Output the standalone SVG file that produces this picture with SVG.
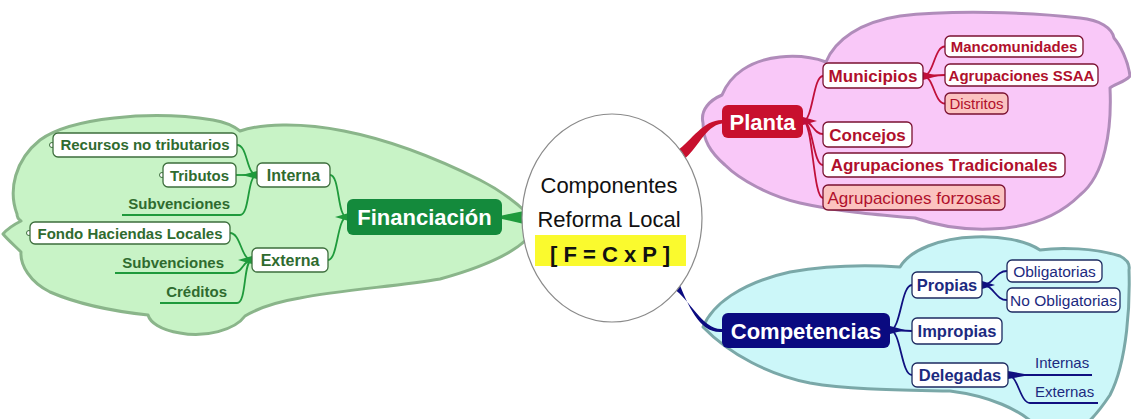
<svg xmlns="http://www.w3.org/2000/svg" width="1131" height="419" viewBox="0 0 1131 419">
<style>
text{font-family:"Liberation Sans",Arial,sans-serif}
.cloud{stroke-width:3;stroke-linejoin:round}
.gbox{fill:#fff;stroke:#3d6e3d;stroke-width:1.3}
.gt{fill:#2f6b2f;font-weight:bold;font-size:15px}
.pbox{fill:#fff;stroke:#7a1030;stroke-width:1.3}
.psal{fill:#fbc3c0;stroke:#7a1030;stroke-width:1.3}
.pt{fill:#b0102c;font-weight:bold;font-size:17px}
.cbox{fill:#fff;stroke:#1c2a60;stroke-width:1.3}
.ct{fill:#1c2a80;font-weight:bold;font-size:16.5px}
.gc{fill:none;stroke:#1f9a3c;stroke-width:1.8}
.pc{fill:none;stroke:#c0103a;stroke-width:1.8}
.cc{fill:none;stroke:#101080;stroke-width:1.8}
.mk{fill:#fff;stroke:#3d6e3d;stroke-width:1}
.mid{text-anchor:middle}
</style>
<rect width="1131" height="419" fill="#fff"/>
<g id="clouds">
<path class="cloud" fill="#c8f3c6" stroke="#8ab58a" d="M 17 214 C 8 190, 15 160, 40 140 C 70 118, 150 110, 213 120 C 225 122, 235 127, 240 131 C 260 124, 300 122, 344 131 C 390 140, 440 160, 480 180 C 500 190, 515 202, 526 212 L 526 240 C 510 255, 480 268, 440 279 C 400 286, 340 290, 300 298 C 270 303, 255 310, 245 316 C 235 330, 205 338, 180 333 C 160 330, 150 322, 148 315 C 120 312, 80 305, 50 292 C 30 282, 20 265, 21 252 C 15 246, 8 240, 3 234 C 8 228, 15 224, 21 221 C 18 219, 17 217, 17 214 Z"/>
<path class="cloud" fill="#f9c8f8" stroke="#b08cba" d="M 703 123 C 700 110, 710 100, 722 95 C 730 75, 750 60, 780 57 C 800 55, 815 58, 826 62 C 835 40, 860 22, 900 16 C 950 10, 1030 12, 1080 18 C 1100 20, 1112 28, 1114 38 C 1120 45, 1128 60, 1130 76 C 1125 82, 1115 84, 1110 88 C 1112 130, 1105 175, 1080 195 C 1060 215, 1030 228, 990 229 C 960 230, 935 225, 915 218 C 880 215, 840 212, 800 203 C 770 196, 740 180, 725 165 C 710 152, 703 140, 703 123 Z"/>
<path class="cloud" fill="#ccf7f9" stroke="#7aa8a8" d="M 703 327 C 712 305, 740 283, 790 272 C 830 265, 870 265, 900 267 C 910 250, 940 238, 975 237 C 1000 236, 1025 240, 1040 250 C 1060 247, 1095 248, 1120 256 C 1128 260, 1130 265, 1129 270 C 1130 300, 1128 360, 1110 395 C 1100 410, 1092 419, 1085 425 L 1035 425 C 1020 410, 990 396, 950 391 C 900 390, 850 390, 810 383 C 770 375, 730 355, 703 327 Z"/>
</g>
<g id="connectors">
<path d="M 502 215.5 L 524 211 L 524 224 L 502 219 Z" fill="#1f9a3c"/>
<path d="M 677 151 C 692 140, 703 120, 722 120 L 722 123.5 C 705 126, 697 150, 684 159 Z" fill="#c8102e"/>
<path d="M 674 289 C 690 300, 703 330, 722 329 L 722 332 C 700 334, 688 305, 679 283 Z" fill="#0a0a80"/>
<path class="gc" d="M 347 217 C 337 217, 340 175, 330 175"/>
<path class="gc" d="M 347 217 C 337 217, 338 260, 328 260"/>
<polygon points="347,213.5 347,220.5 335,217" fill="#1f9a3c"/>
<path class="gc" d="M 257 175 C 246 175, 248 145, 237 145"/>
<path class="gc" d="M 257 175 L 236 175"/>
<path class="gc" d="M 257 175 C 247 175, 250 215, 240 215 L 122 215"/>
<polygon points="257,171 257,179 242,175" fill="#1f9a3c"/>
<path class="gc" d="M 252 260 C 241 260, 241 233, 230 233"/>
<path class="gc" d="M 252 260 C 243 260, 243 273, 233 273 L 115 273"/>
<path class="gc" d="M 252 260 C 243 260, 247 303, 237 303 L 160 303"/>
<polygon points="252,256 252,264 238,260" fill="#1f9a3c"/>
<path class="pc" d="M 803 121 C 813 121, 813 76, 823 76"/>
<path class="pc" d="M 803 121 C 813 121, 813 134, 823 134"/>
<path class="pc" d="M 803 121 C 813 121, 813 165, 823 165"/>
<path class="pc" d="M 803 121 C 813 121, 813 198, 823 198"/>
<polygon points="803,117 803,125 817,121" fill="#c0103a"/>
<path class="pc" d="M 923 76 C 934 76, 934 46.5, 945 46.5"/>
<path class="pc" d="M 923 76 L 945 75"/>
<path class="pc" d="M 923 76 C 934 76, 934 103.5, 945 103.5"/>
<polygon points="923,72 923,80 938,76" fill="#c0103a"/>
<path class="cc" d="M 890 330 C 901 330, 901 285, 912 285"/>
<path class="cc" d="M 890 330 L 912 331"/>
<path class="cc" d="M 890 330 C 901 330, 901 375, 912 375"/>
<polygon points="890,326 890,334 905,330" fill="#101080"/>
<path class="cc" d="M 982 285 C 994 285, 995 271, 1007 271"/>
<path class="cc" d="M 982 285 C 994 285, 995 300, 1007 300"/>
<polygon points="982,281 982,289 995,285" fill="#101080"/>
<path class="cc" d="M 1008 375 L 1092 375"/>
<path class="cc" d="M 1008 375 C 1018 375, 1020 403, 1030 403 L 1098 403"/>
<polygon points="1008,371 1008,379 1030,375" fill="#101080"/>
</g>
<g id="center">
<ellipse cx="612" cy="218" rx="90" ry="104" fill="#fff" stroke="#8a8a8a" stroke-width="1.2"/>
<text class="mid" x="609" y="193" font-size="22" fill="#111">Componentes</text>
<text class="mid" x="609" y="227" font-size="22" fill="#111">Reforma Local</text>
<rect x="535" y="235" width="151" height="31" fill="#fafa2e"/>
<text class="mid" x="610" y="262" font-size="22" font-weight="bold" fill="#111">[ F = C x P ]</text>
</g>
<g id="financiacion">
<rect x="347" y="199" width="155" height="36" rx="6" fill="#148a3c"/>
<text class="mid" x="424.5" y="225" font-size="22" font-weight="bold" fill="#fff">Financiación</text>
</g>
<g id="interna">
<rect class="gbox" x="257" y="163" width="73" height="24" rx="5"/>
<text class="mid" x="293.5" y="181" font-size="16" font-weight="bold" fill="#2f6b2f">Interna</text>
</g>
<g id="externa">
<rect class="gbox" x="252" y="248" width="76" height="24" rx="5"/>
<text class="mid" x="290" y="266" font-size="16" font-weight="bold" fill="#2f6b2f">Externa</text>
</g>
<g id="recursos">
<circle class="mk" cx="52" cy="145" r="2.5"/>
<rect class="gbox" x="53" y="133" width="184" height="24" rx="5"/>
<text class="gt mid" x="145" y="150">Recursos no tributarios</text>
</g>
<g id="tributos">
<circle class="mk" cx="162" cy="175" r="2.5"/>
<rect class="gbox" x="163" y="163" width="73" height="24" rx="5"/>
<text class="gt mid" x="199.5" y="180.5">Tributos</text>
</g>
<g id="subvenciones-interna">
<text class="gt" x="230" y="209" text-anchor="end">Subvenciones</text>
</g>
<g id="fondo">
<circle class="mk" cx="29" cy="233" r="2.5"/>
<rect class="gbox" x="30" y="222" width="200" height="22" rx="5"/>
<text class="gt mid" x="130" y="238.5">Fondo Haciendas Locales</text>
</g>
<g id="subvenciones-externa">
<text class="gt" x="224" y="268" text-anchor="end">Subvenciones</text>
</g>
<g id="creditos">
<text class="gt" x="227" y="297" text-anchor="end">Créditos</text>
</g>
<g id="planta">
<rect x="722" y="105" width="81" height="33" rx="6" fill="#c8102e"/>
<text class="mid" x="762.5" y="129.5" font-size="22" font-weight="bold" fill="#fff">Planta</text>
</g>
<g id="municipios">
<rect class="pbox" x="823" y="63" width="100" height="25" rx="5"/>
<text class="pt mid" x="873" y="81.5">Municipios</text>
</g>
<g id="concejos">
<rect class="pbox" x="823" y="122" width="89" height="25" rx="5"/>
<text class="pt mid" x="867.5" y="140.5">Concejos</text>
</g>
<g id="agr-tradicionales">
<rect class="pbox" x="823" y="153" width="242" height="24" rx="5"/>
<text class="pt mid" x="944" y="171">Agrupaciones Tradicionales</text>
</g>
<g id="agr-forzosas">
<rect class="psal" x="823" y="185" width="182" height="25" rx="5"/>
<text class="mid" x="914" y="203.5" font-size="17" fill="#b0102c">Agrupaciones forzosas</text>
</g>
<g id="mancomunidades">
<rect class="pbox" x="945" y="36" width="138" height="21" rx="5"/>
<text class="mid" x="1014" y="52" font-size="15" font-weight="bold" fill="#b0102c">Mancomunidades</text>
</g>
<g id="agr-ssaa">
<rect class="pbox" x="945" y="64" width="153" height="22" rx="5"/>
<text class="mid" x="1021.5" y="80.5" font-size="15" font-weight="bold" fill="#b0102c">Agrupaciones SSAA</text>
</g>
<g id="distritos">
<rect class="psal" x="945" y="93" width="63" height="21" rx="5"/>
<text class="mid" x="976.5" y="109" font-size="15" fill="#b0102c">Distritos</text>
</g>
<g id="competencias">
<rect x="722" y="313" width="168" height="35" rx="6" fill="#0a0a80"/>
<text class="mid" x="806" y="338.5" font-size="22" font-weight="bold" fill="#fff">Competencias</text>
</g>
<g id="propias">
<rect class="cbox" x="912" y="272" width="70" height="26" rx="5"/>
<text class="ct mid" x="947" y="291">Propias</text>
</g>
<g id="impropias">
<rect class="cbox" x="912" y="318" width="90" height="26" rx="5"/>
<text class="ct mid" x="957" y="337">Impropias</text>
</g>
<g id="delegadas">
<rect class="cbox" x="912" y="363" width="96" height="24" rx="5"/>
<text class="ct mid" x="960" y="381">Delegadas</text>
</g>
<g id="obligatorias">
<rect class="cbox" x="1007" y="260" width="95" height="22" rx="5"/>
<text class="mid" x="1054.5" y="276.5" font-size="15.5" fill="#1c2a80">Obligatorias</text>
</g>
<g id="no-obligatorias">
<rect class="cbox" x="1007" y="288" width="113" height="24" rx="5"/>
<text class="mid" x="1063.5" y="305.5" font-size="15.5" fill="#1c2a80">No Obligatorias</text>
</g>
<g id="internas">
<text x="1035" y="368" font-size="15" fill="#1c2a80">Internas</text>
</g>
<g id="externas">
<text x="1035" y="397" font-size="15" fill="#1c2a80">Externas</text>
</g>
</svg>
